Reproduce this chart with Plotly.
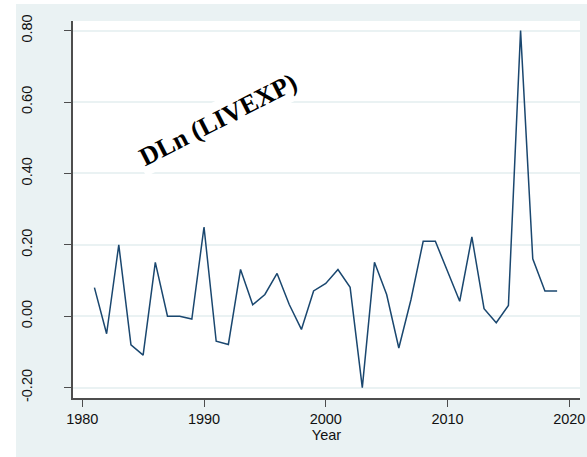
import plotly.graph_objects as go

# Annual first difference of log life expectancy
years = list(range(1981, 2020))
dln_livexp = [
    0.080, -0.049, 0.200, -0.080, -0.109, 0.151, 0.000, 0.000, -0.008, 0.250,
    -0.070, -0.079, 0.131, 0.032, 0.061, 0.120, 0.033, -0.037, 0.071, 0.092,
    0.131, 0.081, -0.200, 0.151, 0.061, -0.089, 0.047, 0.210, 0.210, 0.126,
    0.042, 0.222, 0.021, -0.018, 0.030, 0.800, 0.161, 0.071, 0.071,
]
x_ticks = [1980, 1990, 2000, 2010, 2020]
y_ticks = [-0.2, 0.0, 0.2, 0.4, 0.6, 0.8]
y_tick_text = ["-0.20", "0.00", "0.20", "0.40", "0.60", "0.80"]

BG = "#EAF2F3"
LINE = "#1A476F"
AXIS = "#4D4D4D"

L, R, T, B = 73, 7, 21, 59
W = 587 - L - R
H = 457 - T - B

fig = go.Figure()
fig.add_trace(go.Scatter(
    x=years, y=dln_livexp, mode="lines",
    line=dict(color=LINE, width=1.5),
    showlegend=False, hoverinfo="skip",
))

fig.update_layout(
    width=587, height=457,
    margin=dict(l=L, r=R, t=T, b=B, autoexpand=False),
    paper_bgcolor=BG,
    plot_bgcolor="white",
    font=dict(family="Liberation Sans, Arial, sans-serif", size=14.5, color="#111111"),
    xaxis=dict(
        range=[1979.24, 2020.88],
        tickmode="array", tickvals=x_ticks,
        ticks="outside", ticklen=7, tickcolor=AXIS, tickwidth=1.2,
        showline=True, linecolor=AXIS, linewidth=1.5,
        showgrid=False, zeroline=False, automargin=False,
        title=dict(text="Year", standoff=2, font=dict(size=14.5)),
    ),
    yaxis=dict(
        range=[-0.229, 0.827],
        tickmode="array", tickvals=y_ticks, ticktext=y_tick_text,
        tickangle=-90,
        ticks="outside", ticklen=7, tickcolor=AXIS, tickwidth=1.2,
        ticklabelstandoff=26,
        showline=True, linecolor=AXIS, linewidth=1.5,
        showgrid=True, gridcolor=BG, gridwidth=1.6,
        zeroline=False, automargin=False,
    ),
    shapes=[
        # white margins around the outer panel
        dict(type="rect", xref="paper", yref="paper",
             x0=-0.2, x1=(16 - L) / W, y0=-0.3, y1=1.2,
             fillcolor="white", line=dict(width=0), layer="above"),
        dict(type="rect", xref="paper", yref="paper",
             x0=-0.2, x1=1.2, y0=1 + 17 / H, y1=1.2,
             fillcolor="white", line=dict(width=0), layer="above"),
    ],
    annotations=[
        dict(
            x=1991.2, y=0.55, xref="x", yref="y",
            text="<b>DLn (LIVEXP)</b>", showarrow=False,
            textangle=-27,
            font=dict(family="Liberation Serif, Times New Roman, serif", size=26, color="black"),
            bgcolor="white", borderpad=3,
        )
    ],
)

fig.write_html("out.html")
